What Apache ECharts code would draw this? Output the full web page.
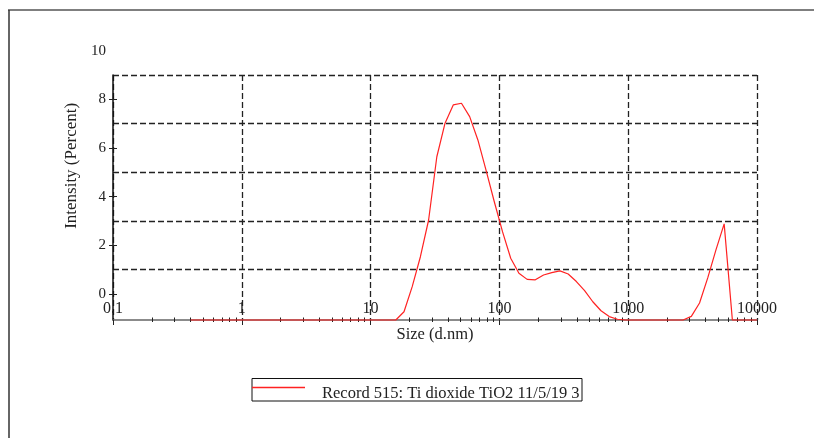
<!DOCTYPE html>
<html>
<head>
<meta charset="utf-8">
<title>Size distribution by intensity</title>
<script src="https://cdn.jsdelivr.net/npm/echarts@6/dist/echarts.min.js"></script>
<style>
  html, body { margin: 0; padding: 0; background: #fff; }
  #chart { width: 814px; height: 438px; }
</style>
</head>
<body>
<div id="chart"></div>
<script>
// Size bins (d.nm), 70 log-spaced classes from 0.4 to 10000 nm
const sizes = [
  0.4, 0.4632, 0.5365, 0.6213, 0.7195, 0.8332, 0.965, 1.117, 1.294, 1.499,
  1.736, 2.01, 2.328, 2.696, 3.122, 3.615, 4.187, 4.849, 5.615, 6.503,
  7.531, 8.721, 10.1, 11.7, 13.54, 15.69, 18.17, 21.04, 24.36, 28.21,
  32.67, 37.84, 43.82, 50.75, 58.77, 68.06, 78.82, 91.28, 105.7, 122.4,
  141.8, 164.2, 190.1, 220.2, 255.0, 295.3, 342.0, 396.1, 458.7, 531.2,
  615.1, 712.4, 825.0, 955.4, 1106, 1281, 1484, 1718, 1990, 2305,
  2669, 3091, 3580, 4145, 4801, 5560, 6439, 7456, 8635, 10000
];

// Intensity per bin, read on the printed percent scale (baseline sits at the axis floor)
const intensity = [
  -1.07, -1.07, -1.07, -1.07, -1.07, -1.07, -1.07, -1.07, -1.07, -1.07,
  -1.07, -1.07, -1.07, -1.07, -1.07, -1.07, -1.07, -1.07, -1.07, -1.07,
  -1.07, -1.07, -1.07, -1.07, -1.07, -1.07, -0.73, 0.30, 1.53, 3.04,
  5.64, 7.02, 7.77, 7.84, 7.29, 6.33, 5.08, 3.79, 2.56, 1.47,
  0.85, 0.60, 0.58, 0.78, 0.88, 0.95, 0.82, 0.51, 0.14, -0.32,
  -0.69, -0.93, -1.04, -1.07, -1.07, -1.07, -1.07, -1.07, -1.07, -1.07,
  -1.07, -0.92, -0.37, 0.66, 1.81, 2.88, -1.07, -1.07, -1.07, -1.07
];

const recordName = 'Record 515: Ti dioxide TiO2 11/5/19 3';

// Axis ranges and tick positions
const yFloor = -1.07;
const yTop = 9;
const yTickLabels = [0, 2, 4, 6, 8, 10];
const yTickMarks = [0, 2, 4, 6, 8];
const yGridValues = [1, 3, 5, 7, 9];
const xMin = 0.1;
const xMax = 10000;
const xDecades = [0.1, 1, 10, 100, 1000, 10000];
const xMinorMarks = [];
for (let d = 0; d < xDecades.length - 1; d++) {
  for (let k = 2; k <= 9; k++) xMinorMarks.push(+(xDecades[d] * k).toPrecision(6));
}

const serif = '"Liberation Serif", "DejaVu Serif", serif';
const textColor = '#222';
const curveColor = '#f22';
const dashed = { color: '#222', width: 1.3, type: [6, 3] };

const chart = echarts.init(document.getElementById('chart'), null, { renderer: 'canvas' });

const plotLeft = 113, plotRight = 57;

// shared settings for the extra log axes that only carry minor ticks
const minorTickAxis = {
  gridIndex: 0, type: 'log', logBase: 10, min: xMin, max: xMax, position: 'bottom',
  axisLine: { show: false, onZero: false },
  axisLabel: { show: false },
  splitLine: { show: false }
};

chart.setOption({
  animation: false,
  backgroundColor: '#fff',
  grid: [
    // plot area: data floor at the bottom axis, value 9 at the top
    { left: plotLeft, right: plotRight, top: 75, bottom: 118 },
    // dashed horizontal guides at odd values 1..9
    { left: plotLeft, right: plotRight, top: 75, bottom: 168.3 },
    // printed percent scale, 0..10
    { left: plotLeft, right: plotRight, top: 50.7, bottom: 144 }
  ],
  xAxis: [
    {
      gridIndex: 0, type: 'log', logBase: 10, min: xMin, max: xMax, position: 'bottom',
      axisLine: { show: true, onZero: false, lineStyle: { color: '#666', width: 1.5 } },
      axisTick: { show: true, length: 5, customValues: xDecades, lineStyle: { color: '#222', width: 1 } },
      axisLabel: {
        show: true, inside: true, margin: 3, customValues: xDecades,
        fontFamily: serif, fontSize: 16, color: textColor,
        formatter: v => String(v)
      },
      splitLine: { show: true, lineStyle: dashed },
      name: 'Size (d.nm)', nameLocation: 'middle', nameGap: 5,
      nameTextStyle: { fontFamily: serif, fontSize: 16.5, color: textColor, verticalAlign: 'top' }
    },
    Object.assign({}, minorTickAxis, {
      axisTick: { show: true, length: 2, customValues: xMinorMarks, lineStyle: { color: '#222', width: 1 } }
    }),
    Object.assign({}, minorTickAxis, {
      axisTick: { show: true, inside: true, length: 2.5, customValues: xMinorMarks, lineStyle: { color: '#222', width: 1 } }
    }),
    { gridIndex: 1, type: 'value', min: 0, max: 1, show: false },
    { gridIndex: 2, type: 'value', min: 0, max: 1, show: false }
  ],
  yAxis: [
    {
      gridIndex: 0, type: 'value', min: yFloor, max: yTop,
      axisLine: { show: true, onZero: false, lineStyle: { color: '#111', width: 1.5 } },
      axisTick: { show: false }, axisLabel: { show: false }, splitLine: { show: false }
    },
    {
      gridIndex: 1, type: 'value', min: yGridValues[0], max: yGridValues[yGridValues.length - 1], interval: 2,
      axisLine: { show: false }, axisTick: { show: false }, axisLabel: { show: false },
      splitLine: { show: true, lineStyle: dashed }
    },
    {
      gridIndex: 2, type: 'value', min: 0, max: 10, interval: 2, offset: -4,
      axisLine: { show: false, onZero: false },
      axisTick: { show: true, length: 8, customValues: yTickMarks, lineStyle: { color: '#222', width: 1 } },
      axisLabel: { show: true, customValues: yTickLabels, margin: 11, fontFamily: serif, fontSize: 15, color: textColor },
      splitLine: { show: false },
      name: 'Intensity (Percent)', nameLocation: 'middle', nameGap: 30, nameRotate: 90,
      nameTextStyle: { fontFamily: serif, fontSize: 17, color: textColor, padding: [0, 0, 0, 13] }
    }
  ],
  legend: {
    left: 252, top: 373,
    orient: 'horizontal',
    borderWidth: 0,
    padding: [0, 3, 0, 0],
    icon: 'rect', itemWidth: 53, itemHeight: 1.5,
    // label sits a little below the sample stroke
    formatter: '{t|{name}}',
    textStyle: {
      rich: {
        t: { fontFamily: serif, fontSize: 16.5, color: textColor, lineHeight: 6, padding: [12, 0, 0, 12] }
      }
    },
    data: [recordName]
  },
  graphic: [
    // page frame
    { type: 'line', shape: { x1: 8, y1: 10, x2: 814, y2: 10 }, style: { stroke: '#555', lineWidth: 1.5 }, silent: true },
    { type: 'line', shape: { x1: 9, y1: 10, x2: 9, y2: 438 }, style: { stroke: '#333', lineWidth: 1.5 }, silent: true },
    // legend box outline
    { type: 'rect', shape: { x: 252, y: 378.5, width: 330, height: 22.5 }, style: { fill: 'none', stroke: '#111', lineWidth: 1 }, silent: true }
  ],
  series: [
    {
      name: recordName, type: 'line', xAxisIndex: 0, yAxisIndex: 0,
      data: sizes.map((s, i) => [s, intensity[i]]),
      showSymbol: false, symbol: 'none', smooth: false, clip: false,
      lineStyle: { color: curveColor, width: 1.2 },
      itemStyle: { color: curveColor },
      z: 5
    }
  ]
});
</script>
</body>
</html>
